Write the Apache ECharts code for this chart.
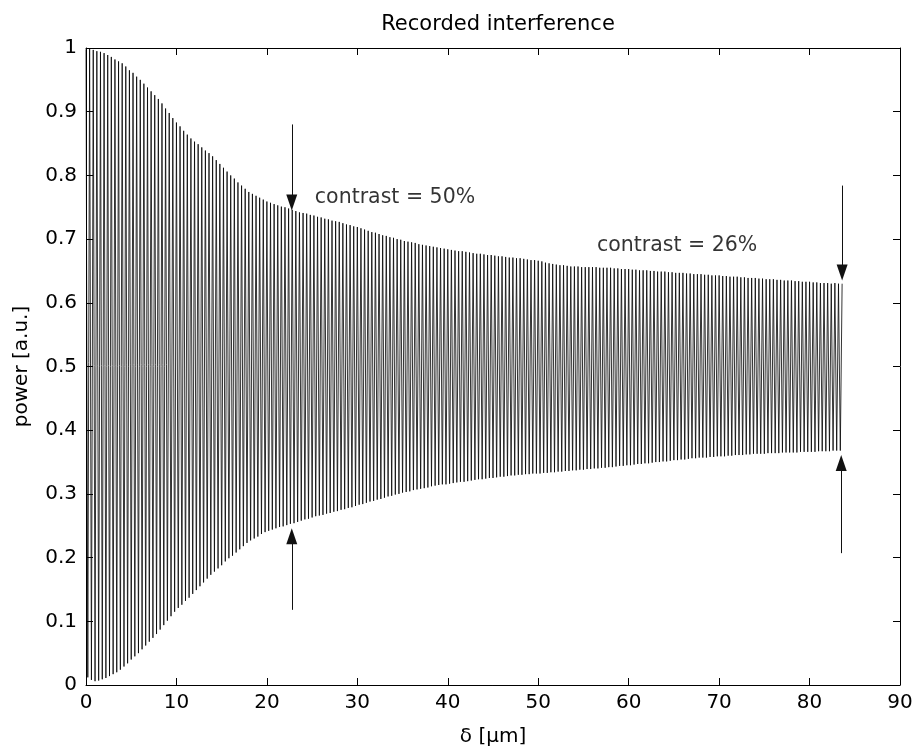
<!DOCTYPE html>
<html>
<head>
<meta charset="utf-8">
<script src="https://cdn.jsdelivr.net/npm/echarts@6/dist/echarts.min.js"></script>
<style>
  html, body { margin: 0; padding: 0; background: #fff; }
  #chart { width: 917px; height: 752px; }
</style>
</head>
<body>
<div id="chart"></div>
<script>
// fringe maxima, one every 0.4 um starting at 0
const fringeStep = 0.4;
const peaks = [
  0.998, 1.000, 0.997, 0.995, 0.994,  0.992, 0.989, 0.986, 0.982, 0.979,
  0.976, 0.971, 0.965, 0.961, 0.955,  0.950, 0.944, 0.938, 0.932, 0.926,
  0.920, 0.913, 0.905, 0.898, 0.890,  0.883, 0.877, 0.870, 0.864, 0.858,
  0.853, 0.849, 0.844, 0.839, 0.835,  0.830, 0.824, 0.818, 0.812, 0.806,
  0.800, 0.795, 0.789, 0.784, 0.779,  0.774, 0.771, 0.768, 0.765, 0.762,
  0.759, 0.757, 0.755, 0.753, 0.751,  0.750, 0.748, 0.746, 0.744, 0.742,
  0.741, 0.740, 0.738, 0.737, 0.735,  0.734, 0.732, 0.731, 0.729, 0.728,
  0.727, 0.725, 0.723, 0.722, 0.720,  0.719, 0.717, 0.715, 0.713, 0.711,
  0.710, 0.708, 0.706, 0.705, 0.703,  0.702, 0.700, 0.699, 0.697, 0.696,
  0.695, 0.694, 0.692, 0.691, 0.690,  0.689, 0.688, 0.687, 0.686, 0.685,
  0.684, 0.683, 0.682, 0.681, 0.681,  0.680, 0.679, 0.678, 0.677, 0.677,
  0.676, 0.675, 0.675, 0.674, 0.673,  0.673, 0.672, 0.671, 0.671, 0.670,
  0.670, 0.669, 0.668, 0.667, 0.667,  0.666, 0.665, 0.663, 0.662, 0.661,
  0.660, 0.659, 0.659, 0.658, 0.657,  0.657, 0.657, 0.656, 0.656, 0.656,
  0.656, 0.656, 0.655, 0.655, 0.655,  0.655, 0.654, 0.654, 0.653, 0.653,
  0.653, 0.652, 0.652, 0.651, 0.651,  0.651, 0.650, 0.650, 0.649, 0.649,
  0.649, 0.648, 0.648, 0.647, 0.647,  0.647, 0.646, 0.646, 0.645, 0.645,
  0.645, 0.644, 0.644, 0.643, 0.643,  0.643, 0.642, 0.642, 0.641, 0.641,
  0.641, 0.640, 0.640, 0.639, 0.639,  0.639, 0.638, 0.638, 0.637, 0.637,
  0.637, 0.636, 0.636, 0.635, 0.635,  0.635, 0.634, 0.634, 0.633, 0.633,
  0.633, 0.632, 0.632, 0.631, 0.631,  0.631, 0.630, 0.631, 0.630, 0.630
];
// fringe minima, halfway between the maxima
const troughs = [
  0.012, 0.008, 0.006, 0.007, 0.009,  0.011, 0.014, 0.017, 0.020, 0.024,
  0.029, 0.034, 0.040, 0.045, 0.050,  0.056, 0.062, 0.068, 0.074, 0.080,
  0.087, 0.094, 0.101, 0.108, 0.115,  0.121, 0.126, 0.132, 0.137, 0.143,
  0.149, 0.155, 0.161, 0.167, 0.173,  0.178, 0.183, 0.188, 0.194, 0.199,
  0.203, 0.208, 0.213, 0.218, 0.223,  0.227, 0.230, 0.233, 0.237, 0.240,
  0.242, 0.244, 0.246, 0.248, 0.249,  0.251, 0.253, 0.254, 0.256, 0.258,
  0.260, 0.261, 0.263, 0.265, 0.266,  0.267, 0.269, 0.270, 0.272, 0.273,
  0.275, 0.276, 0.278, 0.279, 0.281,  0.283, 0.284, 0.286, 0.288, 0.289,
  0.291, 0.292, 0.294, 0.296, 0.297,  0.299, 0.300, 0.302, 0.303, 0.304,
  0.306, 0.307, 0.308, 0.309, 0.310,  0.312, 0.313, 0.314, 0.315, 0.315,
  0.316, 0.317, 0.318, 0.319, 0.319,  0.320, 0.321, 0.322, 0.323, 0.323,
  0.324, 0.325, 0.325, 0.326, 0.327,  0.327, 0.328, 0.329, 0.329, 0.330,
  0.330, 0.331, 0.331, 0.332, 0.332,  0.332, 0.333, 0.333, 0.334, 0.334,
  0.335, 0.335, 0.336, 0.336, 0.337,  0.337, 0.338, 0.338, 0.339, 0.339,
  0.340, 0.340, 0.341, 0.341, 0.342,  0.342, 0.343, 0.344, 0.344, 0.345,
  0.345, 0.346, 0.347, 0.347, 0.348,  0.348, 0.349, 0.350, 0.350, 0.351,
  0.351, 0.352, 0.353, 0.353, 0.354,  0.354, 0.355, 0.356, 0.356, 0.357,
  0.357, 0.357, 0.358, 0.358, 0.359,  0.359, 0.359, 0.360, 0.360, 0.361,
  0.361, 0.361, 0.362, 0.362, 0.363,  0.363, 0.363, 0.363, 0.364, 0.364,
  0.364, 0.364, 0.365, 0.365, 0.365,  0.365, 0.365, 0.366, 0.366, 0.366,
  0.366, 0.366, 0.367, 0.367, 0.367,  0.367, 0.368, 0.368, 0.368
];

// annotation arrows: x, tail y, tip y
const arrowX    = [22.75, 22.75, 83.6, 83.5];
const arrowTail = [0.880, 0.118, 0.784, 0.207];
const arrowTip  = [0.745, 0.246, 0.635, 0.361];

const notes = [
  [25.3, 0.765, 'contrast = 50%'],
  [56.5, 0.690, 'contrast = 26%']
];

const font = 'DejaVu Sans';

// interleave maxima and minima into one trace
const trace = [];
for (let i = 0; i < peaks.length; i++) {
  trace.push([i * fringeStep, peaks[i]]);
  if (i < troughs.length) trace.push([i * fringeStep + fringeStep / 2, troughs[i]]);
}

// arrow head is drawn centred on the end point, so stop short by half its length
const headLen = 16;
const pxPerUnit = 637;
const arrows = arrowX.map((x, i) => {
  const dir = arrowTip[i] > arrowTail[i] ? 1 : -1;
  return [
    { coord: [x, arrowTail[i]] },
    { coord: [x, arrowTip[i] - dir * headLen / 2 / pxPerUnit] }
  ];
});

const chart = echarts.init(document.getElementById('chart'));

const xCommon = {
  type: 'value', min: 0, max: 90, interval: 10,
  axisLine: { show: true, onZero: false, lineStyle: { color: '#000', width: 1 } },
  axisTick: { show: true, inside: true, length: 7, lineStyle: { color: '#000' } },
  splitLine: { show: false }
};
const yCommon = {
  type: 'value', min: 0, max: 1, interval: 0.1,
  axisLine: { show: true, onZero: false, lineStyle: { color: '#000', width: 1 } },
  axisTick: { show: true, inside: true, length: 7, lineStyle: { color: '#000' } },
  splitLine: { show: false }
};

chart.setOption({
  animation: false,
  title: {
    text: 'Recorded interference',
    left: 493, top: 9, textAlign: 'center',
    textStyle: { fontFamily: font, fontSize: 21, fontWeight: 'normal', color: '#000' }
  },
  grid: { left: 86, right: 17, top: 48, bottom: 67 },
  xAxis: [
    Object.assign({}, xCommon, {
      position: 'bottom',
      name: 'δ [µm]', nameLocation: 'middle', nameGap: 42,
      nameTextStyle: { fontFamily: font, fontSize: 20, color: '#000' },
      axisLabel: { fontFamily: font, fontSize: 20, color: '#000', margin: 8 }
    }),
    Object.assign({}, xCommon, { position: 'top', axisLabel: { show: false } })
  ],
  yAxis: [
    Object.assign({}, yCommon, {
      position: 'left',
      name: 'power [a.u.]', nameLocation: 'middle', nameGap: 54,
      nameTextStyle: { fontFamily: font, fontSize: 20, color: '#000' },
      axisLabel: { fontFamily: font, fontSize: 20, color: '#000', margin: 9 }
    }),
    Object.assign({}, yCommon, { position: 'right', axisLabel: { show: false } })
  ],
  series: [
    {
      type: 'line',
      data: trace,
      showSymbol: false,
      symbol: 'none',
      lineStyle: { color: '#000', width: 0.8 },
      markLine: {
        silent: true,
        symbol: ['none', 'triangle'],
        symbolSize: [11, headLen],
        label: { show: false },
        lineStyle: { color: '#111', width: 1, type: 'solid' },
        data: arrows
      }
    },
    {
      type: 'scatter',
      symbolSize: 0,
      data: notes,
      label: {
        show: true, position: 'right', distance: 0,
        formatter: p => p.data[2],
        fontFamily: font, fontSize: 20.5, color: '#000'
      }
    }
  ]
});
</script>
</body>
</html>
